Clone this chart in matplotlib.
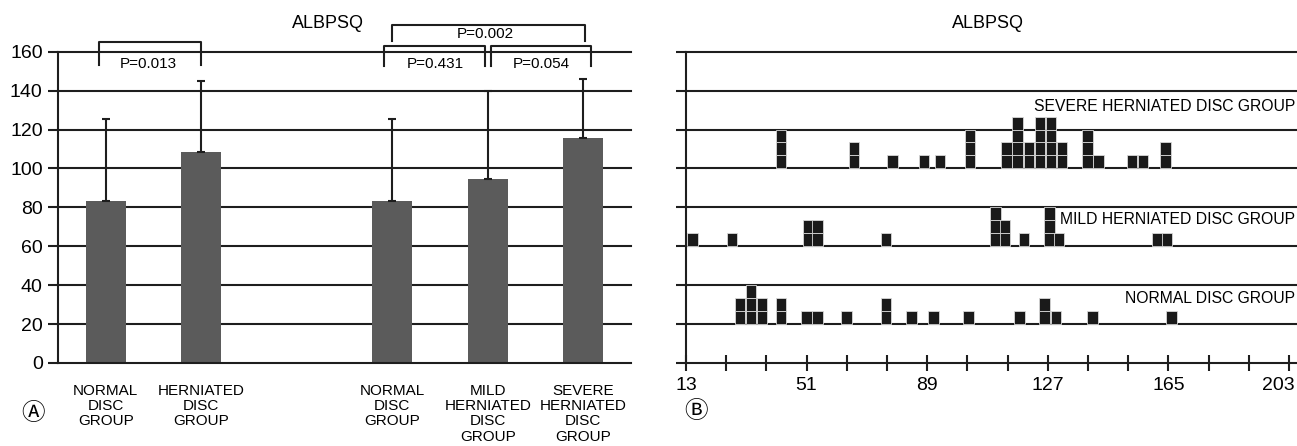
import numpy as np
import matplotlib
matplotlib.use("Agg")
import matplotlib.pyplot as plt
from matplotlib.transforms import offset_copy

plt.rcParams['font.family'] = ['Liberation Sans', 'Noto Sans CJK JP', 'DejaVu Sans']

# ---- left panel data (ALBPSQ mean with upper SD) ----
bar_labels = ["NORMAL\nDISC\nGROUP", "HERNIATED\nDISC\nGROUP",
              "NORMAL\nDISC\nGROUP", "MILD\nHERNIATED\nDISC\nGROUP",
              "SEVERE\nHERNIATED\nDISC\nGROUP"]
bar_pos = [0, 1, 3, 4, 5]
bar_means = [83.5, 108.5, 83.5, 94.5, 115.5]
bar_upper = [125.5, 145.0, 125.5, 140.0, 146.0]
y_ticks = [0, 20, 40, 60, 80, 100, 120, 140, 160]

# brackets: (x left, x right, top, leg bottom, label, label x, label y)
brackets = [
    (-0.07, 1.0, 164.8, 153.4, "P=0.013", 0.45, 153.5),
    (2.91, 3.97, 163.1, 152.5, "P=0.431", 3.45, 153.5),
    (4.03, 5.08, 163.1, 152.5, "P=0.054", 4.56, 153.5),
    (3.0, 5.02, 173.8, 165.6, "P=0.002", 3.97, 169.0),
]

# ---- right panel data (dot plot of individual scores) ----
normal_x = [30, 33.5, 37, 43, 51, 54.5, 63.5, 76, 84, 91, 102, 118, 126, 129.5, 141, 166]
normal_n = [2, 3, 2, 2, 1, 1, 1, 2, 1, 1, 1, 1, 2, 1, 1, 1]
mild_x = [15, 27.5, 51.5, 54.5, 76, 110.5, 113.5, 119.5, 127.5, 130.5, 161.5, 164.5]
mild_n = [1, 1, 2, 2, 1, 3, 2, 1, 3, 1, 1, 1]
severe_x = [43, 66, 78, 88, 93, 102.5, 114, 117.5, 121, 124.5, 128, 131.5,
            139.5, 143, 153.5, 157, 164]
severe_n = [3, 2, 1, 1, 1, 3, 2, 4, 2, 4, 4, 2, 3, 1, 1, 1, 2]
x_ticks = np.linspace(13, 203, 16)
x_ticklabels = ["13", "", "", "51", "", "", "89", "", "", "127", "", "", "165", "", "", "203"]

line_c = "#1e1e1e"
lw = 1.5

fig = plt.figure(figsize=(12.97, 4.46), dpi=100)

# ================= left =================
ax = fig.add_axes([0.0447, 0.1861, 0.4418, 0.698])
ax.set_xlim(-0.5, 5.5)
ax.set_ylim(0, 160)
for y in y_ticks[1:]:
    ax.axhline(y, color=line_c, lw=lw, zorder=1, clip_on=False)
ax.bar(bar_pos, bar_means, width=0.415, color="#5b5b5b", zorder=2)
err = np.array(bar_upper) - np.array(bar_means)
ax.errorbar(bar_pos, bar_means, yerr=[np.zeros_like(err), err], fmt="none",
            ecolor=line_c, elinewidth=lw, capsize=3, capthick=lw, zorder=3)
for s in ["top", "right"]:
    ax.spines[s].set_visible(False)
for s in ["left", "bottom"]:
    ax.spines[s].set_linewidth(lw)
    ax.spines[s].set_color(line_c)
ax.set_yticks(y_ticks)
ax.tick_params(axis="y", length=7, width=lw, color=line_c, labelsize=14, pad=4)
ax.set_xticks(bar_pos)
ax.set_xticklabels(bar_labels, fontsize=11, linespacing=1.12)
ax.tick_params(axis="x", length=0, pad=15)

for x0, x1, top, bot, lab, tx, ty in brackets:
    ax.plot([x0, x0, x1, x1], [bot, top, top, bot], color=line_c, lw=lw,
            clip_on=False, zorder=4)
    ax.text(tx, ty, lab, ha="center", va="center", fontsize=11, zorder=5)

ax.text(2.33, 174.5, "ALBPSQ", ha="center", va="center", fontsize=13)

# ================= right =================
bx = fig.add_axes([0.5289, 0.1861, 0.4711, 0.698])
bx.set_xlim(13, 205.5)
bx.set_ylim(0, 8)
for y in range(1, 9):
    bx.axhline(y, color=line_c, lw=lw, zorder=1, clip_on=False)

sq_w = 3.3
sq_h = 1 / 3
for xs, ns, base in [(normal_x, normal_n, 1), (mild_x, mild_n, 3), (severe_x, severe_n, 5)]:
    for x, n in zip(xs, ns):
        for i in range(n):
            bx.bar(x, sq_h, bottom=base + i * sq_h, width=sq_w, color="#1a1a1a",
                   edgecolor="#d8d8d8", linewidth=0.6, zorder=3)

bx.text(205, 6.58, "SEVERE HERNIATED DISC GROUP", ha="right", va="center", fontsize=11.3)
bx.text(205, 3.68, "MILD HERNIATED DISC GROUP", ha="right", va="center", fontsize=11.3)
bx.text(205, 1.65, "NORMAL DISC GROUP", ha="right", va="center", fontsize=11.3)
bx.text(108, 8.72, "ALBPSQ", ha="center", va="center", fontsize=13)

for s in ["top", "right"]:
    bx.spines[s].set_visible(False)
for s in ["left", "bottom"]:
    bx.spines[s].set_linewidth(lw)
    bx.spines[s].set_color(line_c)
bx.set_yticks(range(0, 9))
bx.set_yticklabels([])
bx.tick_params(axis="y", length=7, width=lw, color=line_c)
bx.set_xticks(x_ticks)
bx.set_xticklabels(x_ticklabels)
bx.tick_params(axis="x", direction="inout", length=12, width=lw, color=line_c,
               labelsize=14, pad=4)
# last label sits flush with the picture edge, as in the original
last = bx.get_xticklabels()[-1]
last.set_horizontalalignment("right")
last.set_transform(offset_copy(last.get_transform(), fig=fig, x=6, y=0, units="dots"))

fig.text(33 / 1297, 1 - 414 / 446, "\u24B6", ha="center", va="center", fontsize=17)
fig.text(696 / 1297, 1 - 412 / 446, "\u24B7", ha="center", va="center", fontsize=17)

fig.savefig("out.png", dpi=100)
